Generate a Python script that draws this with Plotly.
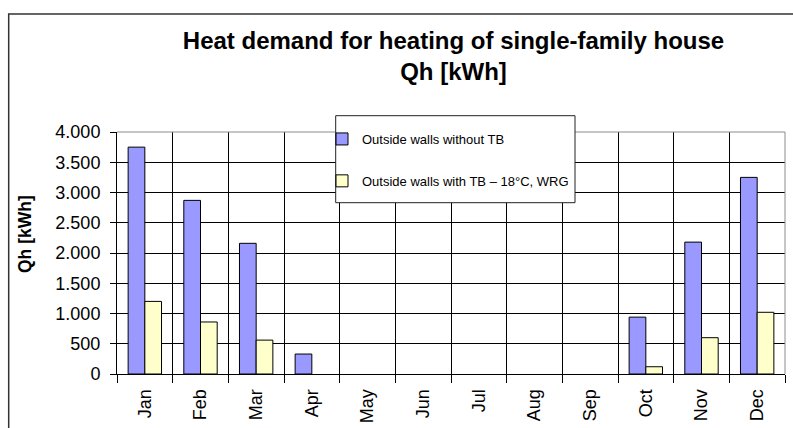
import plotly.graph_objects as go

months = ["Jan", "Feb", "Mar", "Apr", "May", "Jun", "Jul", "Aug", "Sep", "Oct", "Nov", "Dec"]
without_tb = [3750, 2870, 2160, 330, 0, 0, 0, 0, 0, 940, 2180, 3250]
with_tb = [1200, 860, 560, 0, 0, 0, 0, 0, 0, 120, 600, 1020]
name_without = "Outside walls without TB"
name_with = "Outside walls with TB – 18°C, WRG"
ytick_vals = [0, 500, 1000, 1500, 2000, 2500, 3000, 3500, 4000]
ytick_text = ["0", "500", "1.000", "1.500", "2.000", "2.500", "3.000", "3.500", "4.000"]
title_text = "Heat demand for heating of single-family house<br>Qh [kWh]"
ytitle = "Qh [kWh]"

W, H = 793, 428
L, R, T, B = 117, 8, 132, 54
pw, ph = W - L - R, H - T - B


def px_x(x):
    return (x - L) / pw


def px_y(y):
    return (H - B - y) / ph


FONT = "Liberation Sans, Arial, sans-serif"


def outline_widths(vals):
    # Excel draws no outline for empty (zero) bars
    return [1 if v > 0 else 0 for v in vals]


fig = go.Figure()
fig.add_trace(go.Bar(x=months, y=without_tb, name=name_without, legendgroup="a",
                     marker=dict(color="#9999FF",
                                 line=dict(color="#000000", width=outline_widths(without_tb)))))
fig.add_trace(go.Bar(x=months, y=with_tb, name=name_with, legendgroup="b",
                     marker=dict(color="#FFFFCC",
                                 line=dict(color="#000000", width=outline_widths(with_tb)))))

shapes = [
    # outer chart border
    dict(type="rect", xref="paper", yref="paper", x0=px_x(8.7), x1=px_x(810), y0=px_y(445), y1=px_y(14),
         line=dict(color="#333333", width=1.5), fillcolor="rgba(0,0,0,0)", layer="below"),
    # plot area top/right border (gray)
    dict(type="line", xref="paper", yref="paper", x0=0, x1=1, y0=1, y1=1,
         line=dict(color="#8c8c8c", width=1), layer="above"),
    dict(type="line", xref="paper", yref="paper", x0=1, x1=1, y0=0, y1=1,
         line=dict(color="#8c8c8c", width=1), layer="above"),
    # legend box
    dict(type="rect", xref="paper", yref="paper", x0=px_x(335.7), x1=px_x(575), y0=px_y(202.7), y1=px_y(115.7),
         line=dict(color="#222222", width=1), fillcolor="#ffffff", layer="above"),
]

fig.update_layout(
    width=W, height=H,
    margin=dict(l=L, r=R, t=T, b=B, pad=0, autoexpand=False),
    paper_bgcolor="white", plot_bgcolor="white",
    barmode="group", bargap=0.4, bargroupgap=0,
    font=dict(family=FONT, color="#000000", size=18),
    title=dict(text=title_text, xref="container", yref="container", x=453.5 / W, xanchor="center",
               y=1 - 49 / H, yanchor="top",
               font=dict(family=FONT, size=24, weight="bold", color="#000000")),
    showlegend=True,
    legend=dict(x=px_x(322), y=px_y(124), xanchor="left", yanchor="top",
                bgcolor="rgba(0,0,0,0)", borderwidth=0, traceorder="grouped", tracegroupgap=22,
                font=dict(family=FONT, size=13, color="#000000")),
    shapes=shapes,
    annotations=[dict(text=ytitle, xref="paper", yref="paper", x=px_x(25), y=px_y(234),
                      showarrow=False, textangle=-90, xanchor="center", yanchor="middle",
                      font=dict(family=FONT, size=17.5, weight="bold", color="#000000"))],
)

fig.update_xaxes(
    type="category", tickson="boundaries", showgrid=True, gridcolor="#000000", gridwidth=1,
    ticks="outside", ticklen=8, tickcolor="#000000", tickwidth=1, tickangle=-90,
    ticklabelstandoff=7, automargin=False,
    showline=True, linecolor="#000000", linewidth=1,
    tickfont=dict(family=FONT, size=18, color="#000000"), range=[-0.5, 11.5],
)
fig.update_yaxes(
    range=[0, 4000], tickvals=ytick_vals, ticktext=ytick_text,
    showgrid=True, gridcolor="#000000", gridwidth=1,
    ticks="outside", ticklen=6, tickcolor="#000000", tickwidth=1,
    ticklabelstandoff=6, automargin=False,
    showline=True, linecolor="#000000", linewidth=1,
    zeroline=True, zerolinecolor="#000000", zerolinewidth=1,
    tickfont=dict(family=FONT, size=18, color="#000000"),
)

fig.write_html("out.html", config={"displayModeBar": False},
               post_script="document.body.style.margin='0';")
